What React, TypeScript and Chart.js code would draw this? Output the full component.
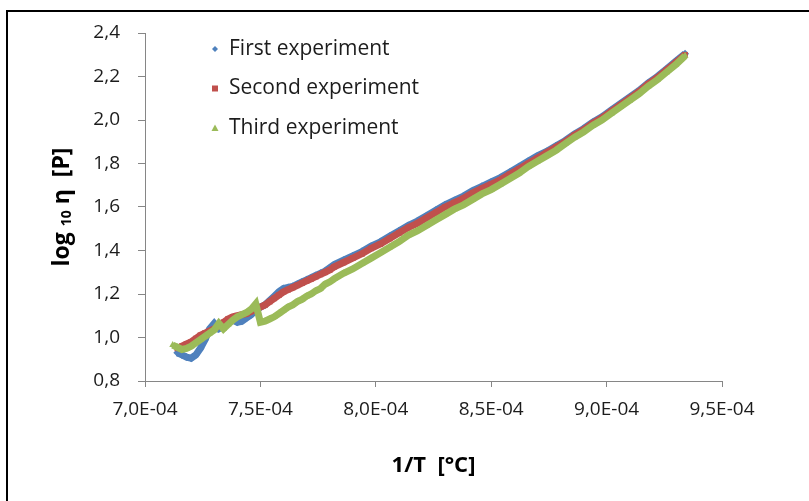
import React, { useEffect, useRef } from "react";
import { Chart, registerables } from "chart.js";

Chart.register(...registerables);

// 1/T values (shared x positions of the sampled readings)
const xValues = [
  7.12e-4, 7.14e-4, 7.16e-4, 7.18e-4, 7.2e-4, 7.22e-4, 7.24e-4, 7.26e-4, 7.28e-4, 7.3e-4,
  7.32e-4, 7.34e-4, 7.36e-4, 7.38e-4, 7.4e-4, 7.42e-4, 7.44e-4, 7.46e-4, 7.48e-4,
  7.5e-4, 7.52e-4, 7.54e-4, 7.56e-4, 7.58e-4, 7.6e-4, 7.62e-4, 7.64e-4, 7.66e-4, 7.68e-4,
  7.7e-4, 7.72e-4, 7.74e-4, 7.76e-4, 7.78e-4, 7.8e-4,
  7.82e-4, 7.86e-4, 7.9e-4, 7.94e-4, 7.98e-4, 8.02e-4, 8.06e-4, 8.1e-4, 8.14e-4, 8.18e-4,
  8.22e-4, 8.26e-4, 8.3e-4, 8.34e-4, 8.38e-4, 8.42e-4, 8.46e-4, 8.5e-4, 8.54e-4, 8.58e-4,
  8.62e-4, 8.66e-4, 8.7e-4, 8.74e-4, 8.78e-4, 8.82e-4, 8.86e-4, 8.9e-4, 8.94e-4, 8.98e-4,
  9.02e-4, 9.06e-4, 9.1e-4, 9.14e-4, 9.18e-4, 9.22e-4, 9.26e-4, 9.3e-4, 9.34e-4,
];

const firstExperiment = [
  null, 0.93, 0.92, 0.91, 0.905, 0.92, 0.95, 0.99, 1.04, 1.065,
  1.04, 1.05, 1.07, 1.08, 1.07, 1.075, 1.09, 1.105, 1.125,
  1.14, 1.15, 1.17, 1.19, 1.21, 1.225, 1.23, 1.235, 1.245, 1.255,
  1.265, 1.275, 1.285, 1.295, 1.305, 1.32,
  1.335, 1.355, 1.375, 1.395, 1.42, 1.44, 1.465, 1.49, 1.515, 1.535,
  1.56, 1.585, 1.61, 1.63, 1.65, 1.675, 1.695, 1.715, 1.735, 1.76,
  1.785, 1.81, 1.835, 1.855, 1.88, 1.905, 1.935, 1.96, 1.99, 2.015,
  2.045, 2.075, 2.105, 2.135, 2.17, 2.2, 2.235, 2.27, 2.305,
];

const secondExperiment = [
  null, 0.95, 0.96, 0.97, 0.98, 0.995, 1.01, 1.02, 1.03, 1.04,
  1.055, 1.07, 1.085, 1.095, 1.1, 1.105, 1.11, 1.12, 1.13,
  1.14, 1.15, 1.165, 1.18, 1.195, 1.21, 1.22, 1.23, 1.24, 1.25,
  1.26, 1.27, 1.28, 1.29, 1.3, 1.31,
  1.325, 1.345, 1.365, 1.385, 1.41, 1.43, 1.455, 1.48, 1.505, 1.525,
  1.55, 1.575, 1.6, 1.62, 1.64, 1.665, 1.685, 1.705, 1.725, 1.75,
  1.775, 1.8, 1.825, 1.85, 1.875, 1.9, 1.93, 1.955, 1.985, 2.01,
  2.04, 2.07, 2.1, 2.13, 2.165, 2.195, 2.23, 2.265, 2.3,
];

const thirdExperiment = [
  0.965, 0.955, 0.945, 0.95, 0.96, 0.975, 0.99, 1.005, 1.02, 1.035,
  1.065, 1.04, 1.06, 1.08, 1.095, 1.105, 1.115, 1.13, 1.155,
  1.07, 1.075, 1.085, 1.095, 1.11, 1.125, 1.14, 1.15, 1.165, 1.175,
  1.19, 1.2, 1.215, 1.225, 1.245, 1.255,
  1.27, 1.295, 1.315, 1.34, 1.365, 1.39, 1.415, 1.44, 1.47, 1.49,
  1.515, 1.54, 1.565, 1.59, 1.61, 1.635, 1.66, 1.68, 1.705, 1.73,
  1.755, 1.785, 1.81, 1.835, 1.86, 1.89, 1.92, 1.945, 1.975, 2.0,
  2.03, 2.06, 2.09, 2.12, 2.155, 2.185, 2.22, 2.255, 2.295,
];

const seriesNames = ["First experiment", "Second experiment", "Third experiment"];
const seriesColors = ["#4F81BD", "#C0504D", "#9BBB59"];
const seriesStyles = ["rectRot", "rect", "triangle"];

const xTickValues = [7.0e-4, 7.5e-4, 8.0e-4, 8.5e-4, 9.0e-4, 9.5e-4];
const xTickLabels = ["7,0E-04", "7,5E-04", "8,0E-04", "8,5E-04", "9,0E-04", "9,5E-04"];
const yTickValues = [0.8, 1.0, 1.2, 1.4, 1.6, 1.8, 2.0, 2.2, 2.4];
const yTickLabels = ["0,8", "1,0", "1,2", "1,4", "1,6", "1,8", "2,0", "2,2", "2,4"];

const FONT = "'Open Sans', Lato, sans-serif";
const TEXT = "#1c1c1c";

const toPoints = (ys: (number | null)[]) =>
  xValues
    .map((x, i) => ({ x, y: ys[i] }))
    .filter((p) => p.y !== null) as { x: number; y: number }[];

const legendPlugin = {
  id: "insideLegend",
  afterDraw(chart: any) {
    const ctx = chart.ctx as CanvasRenderingContext2D;
    ctx.save();
    chart.data.datasets.forEach((ds: any, i: number) => {
      const cy = 49 + i * 39.5;
      const mx = 215;
      ctx.fillStyle = ds.backgroundColor;
      ctx.beginPath();
      if (i === 0) {
        ctx.moveTo(mx, cy - 3);
        ctx.lineTo(mx + 3, cy);
        ctx.lineTo(mx, cy + 3);
        ctx.lineTo(mx - 3, cy);
      } else if (i === 1) {
        ctx.rect(mx - 3, cy - 3, 6, 6);
      } else {
        ctx.moveTo(mx, cy - 3.5);
        ctx.lineTo(mx + 3.5, cy + 3);
        ctx.lineTo(mx - 3.5, cy + 3);
      }
      ctx.closePath();
      ctx.fill();
      ctx.fillStyle = TEXT;
      ctx.font = `21px ${FONT}`;
      ctx.textBaseline = "middle";
      ctx.textAlign = "left";
      ctx.fillText(ds.label, 229, cy);
    });
    ctx.restore();
  },
};

const yTitlePlugin = {
  id: "yTitle",
  afterDraw(chart: any) {
    const ctx = chart.ctx as CanvasRenderingContext2D;
    const parts = [
      { t: "log ", f: `bold 23px ${FONT}`, dy: 0 },
      { t: "10", f: `bold 14px ${FONT}`, dy: 5 },
      { t: " η  [P]", f: `bold 23px ${FONT}`, dy: 0 },
    ];
    ctx.save();
    ctx.translate(62, 207);
    ctx.rotate(-Math.PI / 2);
    let total = 0;
    const widths = parts.map((p) => {
      ctx.font = p.f;
      const w = ctx.measureText(p.t).width;
      total += w;
      return w;
    });
    let x = -total / 2;
    ctx.fillStyle = "#000";
    ctx.textBaseline = "middle";
    ctx.textAlign = "left";
    parts.forEach((p, i) => {
      ctx.font = p.f;
      ctx.fillText(p.t, x, p.dy);
      x += widths[i];
    });
    ctx.restore();
  },
};

export default function App() {
  const canvasRef = useRef<HTMLCanvasElement | null>(null);

  useEffect(() => {
    if (!canvasRef.current) return;
    const allSeries = [firstExperiment, secondExperiment, thirdExperiment];
    const chart = new Chart(canvasRef.current, {
      type: "scatter",
      data: {
        datasets: allSeries.map((s, i) => ({
          label: seriesNames[i],
          data: toPoints(s),
          showLine: true,
          borderColor: seriesColors[i],
          backgroundColor: seriesColors[i],
          borderWidth: 7,
          pointStyle: seriesStyles[i] as any,
          pointRadius: 4,
          pointBorderWidth: 0,
          pointHoverRadius: 4,
          tension: 0,
          order: 3 - i,
        })),
      },
      options: {
        responsive: false,
        animation: false,
        devicePixelRatio: 1,
        layout: { padding: { left: 0, right: 87, top: 33, bottom: 0 } },
        plugins: {
          legend: { display: false },
          tooltip: { enabled: false },
        },
        scales: {
          x: {
            type: "linear",
            min: 7.0e-4,
            max: 9.5e-4,
            afterBuildTicks: (scale: any) => {
              scale.ticks = xTickValues.map((v) => ({ value: v }));
            },
            afterFit: (scale: any) => {
              scale.height = 120;
            },
            ticks: {
              callback: (_v: any, i: number) => xTickLabels[i],
              font: { family: FONT, size: 19 },
              color: TEXT,
              padding: 11,
              maxRotation: 0,
              autoSkip: false,
            },
            grid: {
              drawOnChartArea: false,
              drawTicks: true,
              tickLength: 6,
              color: "#868686",
            },
            border: { display: true, color: "#868686", width: 1 },
            title: {
              display: true,
              text: "1/T  [°C]",
              font: { family: FONT, size: 22, weight: "bold" },
              color: "#000",
              padding: { top: 0, bottom: 22 },
            },
          },
          y: {
            type: "linear",
            min: 0.8,
            max: 2.4,
            afterBuildTicks: (scale: any) => {
              scale.ticks = yTickValues.map((v) => ({ value: v }));
            },
            afterFit: (scale: any) => {
              scale.width = 145;
            },
            ticks: {
              callback: (_v: any, i: number) => yTickLabels[i],
              font: { family: FONT, size: 19 },
              color: TEXT,
              padding: 18,
              autoSkip: false,
            },
            grid: {
              drawOnChartArea: false,
              drawTicks: true,
              tickLength: 7,
              color: "#868686",
            },
            border: { display: true, color: "#868686", width: 1 },
          },
        },
      },
      plugins: [legendPlugin, yTitlePlugin],
    } as any);
    return () => chart.destroy();
  }, []);

  return (
    <div style={{ position: "absolute", left: 0, top: 0, width: 809, height: 501, overflow: "hidden", background: "#fff" }}>
      <div
        style={{
          position: "absolute",
          left: 6,
          top: 10,
          width: 803,
          height: 491,
          borderLeft: "2px solid #000",
          borderTop: "2px solid #000",
          boxSizing: "border-box",
        }}
      />
      <canvas
        ref={canvasRef}
        width={809}
        height={501}
        style={{ position: "absolute", left: 0, top: 0, width: 809, height: 501 }}
      />
    </div>
  );
}
